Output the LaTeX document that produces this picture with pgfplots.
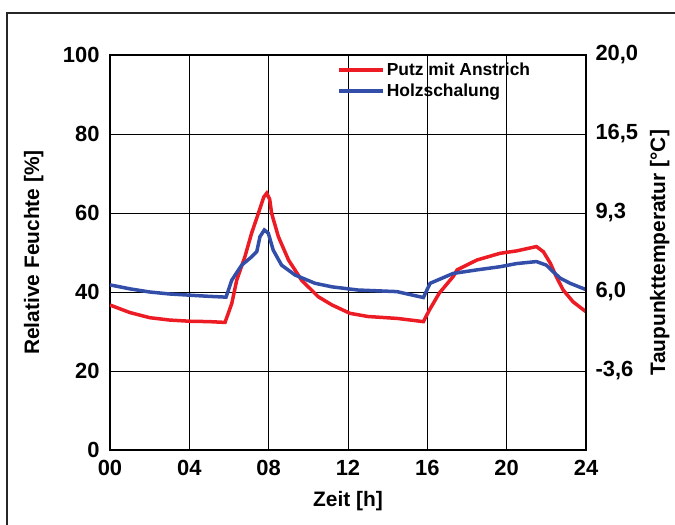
\documentclass[border=0pt]{standalone}
\usepackage{pgfplots}
\pgfplotsset{compat=1.18}
\usepackage{fontspec}
\setmainfont{Liberation Sans}
\definecolor{cred}{RGB}{237,28,36}
\definecolor{cblue}{RGB}{50,78,168}
\pgfplotstableread{
x y
0 36.7
1 34.8
2 33.5
3 32.9
4 32.6
5 32.5
5.8 32.3
6.14 37.1
6.39 43.0
6.8 48.9
7.14 54.9
7.48 59.9
7.75 64.0
7.9 65.0
8.05 63.5
8.15 59.9
8.49 54.0
9.0 48.1
9.66 43.0
10.5 38.8
11.2 36.7
12.1 34.6
13.0 33.8
14.5 33.3
15.8 32.5
16.1 35.4
16.6 39.7
17.3 43.9
17.5 45.6
18.5 48.1
19.67 49.8
20.5 50.4
21.5 51.5
21.85 50.2
22.2 47.3
22.5 43.9
22.85 40.5
23.35 37.5
24.0 35.0
}\red
\pgfplotstableread{
x y
0 41.8
1 40.8
2 40.0
3 39.5
4 39.2
5 38.9
5.85 38.7
6.14 43.0
6.64 46.8
7.14 48.9
7.4 50.2
7.56 54.0
7.78 55.7
7.98 54.9
8.23 50.6
8.65 46.8
9.33 44.3
10.34 42.2
11.2 41.3
12.5 40.5
14.46 40.1
15.8 38.6
16.14 42.2
17.3 44.7
18.5 45.6
19.67 46.4
20.5 47.2
21.5 47.7
22.0 46.8
22.35 45.1
22.7 43.5
23.2 42.2
24.0 40.6
}\blue
\begin{document}
\begin{tikzpicture}
\useasboundingbox (-110bp,-75bp) rectangle (565bp,450bp);
\clip (-110bp,-75bp) rectangle (565bp,450bp);
\draw[line width=1.5bp, black!85] (-103bp,-90bp) -- (-103bp,437bp) -- (580bp,437bp);
\begin{axis}[
  at={(0,0)}, anchor=south west,
  scale only axis, width=476bp, height=395bp,
  xmin=0, xmax=24, ymin=0, ymax=100,
  xtick={0,4,...,24}, xticklabels={00,04,08,12,16,20,24},
  ytick={0,20,...,100},
  grid=major,
  major grid style={black, line width=0.9bp},
  axis line style={black, line width=1.8bp},
  major tick length=0pt,
  /pgf/number format/assume math mode=true,
  tick label style={font=\bfseries\fontsize{22}{26}\selectfont},
  xticklabel style={yshift=-7bp},
  yticklabel style={xshift=-7bp},
  label style={font=\bfseries\fontsize{21}{25}\selectfont},
  xlabel={Zeit [h]},
  ylabel={Relative Feuchte [\%]},
  xlabel style={at={(axis description cs:0.5,-0.13)}, anchor=center},
  ylabel style={at={(axis description cs:-0.16,0.5)}, anchor=center},
  legend style={at={(rel axis cs:0.475,0.988)}, anchor=north west, draw=none, fill=none,
    font=\bfseries\fontsize{17.5}{20}\selectfont, row sep=3bp, inner sep=1bp,
    /tikz/every even column/.append style={column sep=2bp}},
  legend cell align=left,
  legend image code/.code={\draw[#1] (0bp,0bp) -- (44bp,0bp);},
]
\addplot[cred, line width=3.5bp] table[x=x,y=y] {\red};
\addlegendentry{Putz mit Anstrich}
\addplot[cblue, line width=3.5bp] table[x=x,y=y] {\blue};
\addlegendentry{Holzschalung}
\end{axis}
\begin{axis}[
  at={(0,0)}, anchor=south west,
  scale only axis, width=476bp, height=395bp,
  xmin=0, xmax=24, ymin=0, ymax=100,
  axis x line=none, axis y line*=right,
  axis line style={black, line width=1.8bp},
  ytick={20,40,60,80,100},
  yticklabels={{-3,6},{6,0},{9,3},{16,5},{20,0}},
  major tick length=0pt,
  /pgf/number format/assume math mode=true,
  tick label style={font=\bfseries\fontsize{22}{26}\selectfont},
  yticklabel style={xshift=6bp},
  ylabel={Taupunkttemperatur [°C]},
  ylabel style={font=\bfseries\fontsize{21}{25}\selectfont, at={(axis description cs:1.155,0.5)}, anchor=center},
]
\end{axis}
\end{tikzpicture}
\end{document}
